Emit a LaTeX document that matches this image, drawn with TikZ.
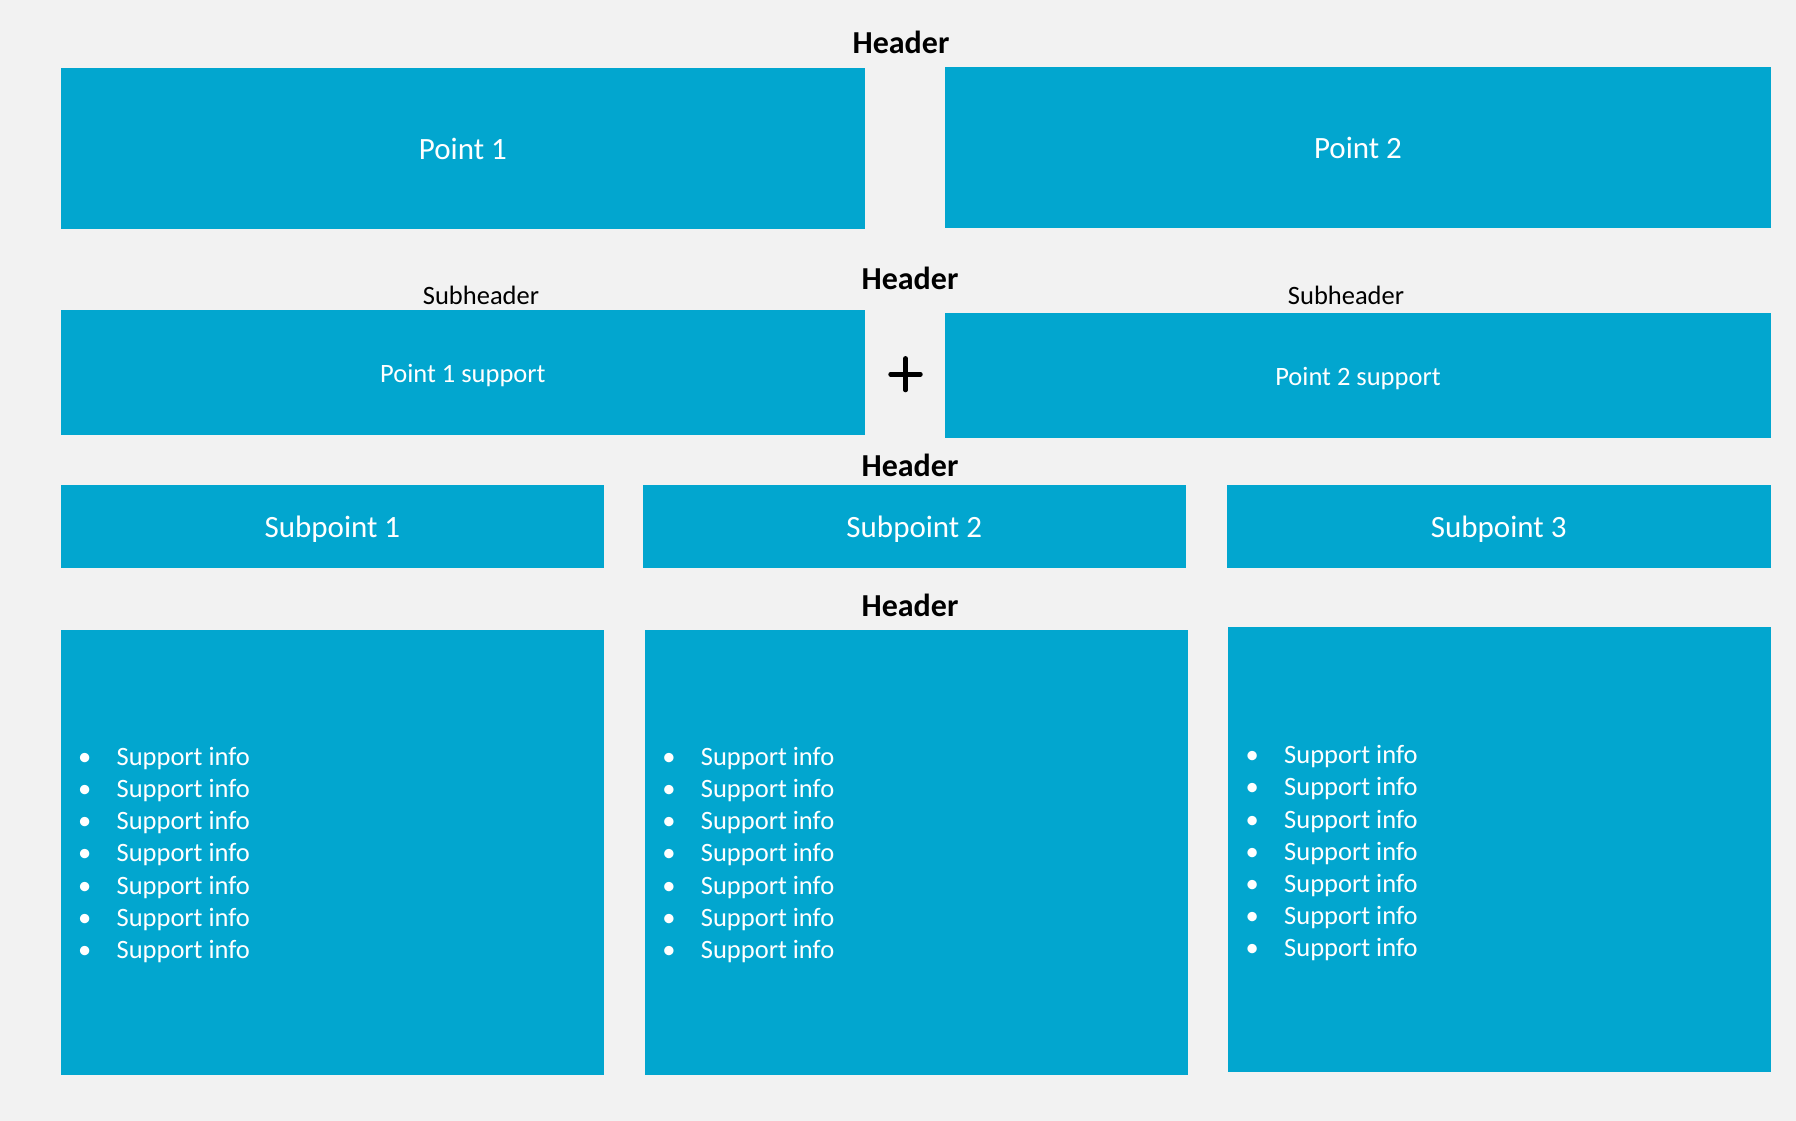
\documentclass[tikz,border=0pt]{standalone}
\usepackage{fontspec}
\setmainfont{Carlito}
\usepackage{tikz}
\usetikzlibrary{calc}
\definecolor{boxblue}{HTML}{02A6CF}
\definecolor{slidebg}{HTML}{F2F2F2}

\begin{document}
\begin{tikzpicture}[x = 1pt, y = -1pt,
box/.style={fill=boxblue, inner sep=0pt, outer sep=0pt, text=white, align=center},
bigtext/.style={font=\fontsize{31}{37}\selectfont, text height=23pt, text depth=0pt},
smalltext/.style={font=\fontsize{26.5}{32}\selectfont, text height=20.4pt, text depth=0pt},
header/.style={anchor=base, inner sep=0pt, font=\bfseries\fontsize{32}{38}\selectfont},
subheader/.style={anchor=base, inner sep=0pt, font=\fontsize{26.5}{32}\selectfont},
infoline/.style={anchor=base west, inner sep=0pt, text=white, font=\fontsize{26.5}{32}\selectfont},
infodot/.style={anchor=base, inner sep=0pt, text=white, font=\fontsize{26.5}{32}\selectfont},
]

	\useasboundingbox (0,0) rectangle (1796,1121);
	\fill[slidebg] (0,0) rectangle (1796,1121); % slide background

	% top row
	\node[header] (h1) at (901,53.3) {Header};
	\node[box, bigtext, minimum width=804.2pt, minimum height=161pt] (p1) at (462.9,148.2) {Point 1};
	\node[box, bigtext, minimum width=826pt, minimum height=160.9pt] (p2) at (1358,147.25) {Point 2};

	% support row
	\node[header] (h2) at (910,289) {Header};
	\node[subheader] (sub1) at (481,304) {Subheader};
	\node[subheader] (sub2) at (1346,304) {Subheader};
	\node[box, smalltext, minimum width=804.2pt, minimum height=124.5pt] (p1-sup) at (462.9,372.25) {Point 1 support};
	\node[box, smalltext, minimum width=826pt, minimum height=124.7pt] (p2-sup) at (1358,375.35) {Point 2 support};

	\coordinate (plus) at (905.5,374.2);
	\draw[line width=4.6pt, line cap=round] ($(plus)+(-14.9,0)$) -- ($(plus)+(14.9,0)$); % plus bar
	\draw[line width=4.6pt, line cap=round] ($(plus)+(0,-15.8)$) -- ($(plus)+(0,15.8)$);

	% subpoints
	\node[header] (h3) at (910,476.5) {Header};
	\node[box, bigtext, minimum width=543.1pt, minimum height=82.7pt] (sp1) at (332.45,526.35) {Subpoint 1};
	\node[box, bigtext, minimum width=543pt, minimum height=82.7pt] (sp2) at (914.3,526.35) {Subpoint 2};
	\node[box, bigtext, minimum width=543.5pt, minimum height=82.7pt] (sp3) at (1498.75,526.35) {Subpoint 3};

	% detail boxes
	\node[header] (h4) at (910,616.7) {Header};
	\node[box, minimum width=543.1pt, minimum height=444.7pt] (info1) at (332.45,852.35) {};
	\node[box, minimum width=543pt, minimum height=444.7pt] (info2) at (916.5,852.35) {};
	\node[box, minimum width=543pt, minimum height=445pt] (info3) at (1499.5,849.5) {};

	\foreach \bx/\by [count=\k] in {84.6/765.3, 668.9/765.3, 1252.2/763.7}
		\foreach \i in {0,...,6} {
			\node[infodot] (dot-\k-\i) at (\bx, \by+32.2*\i) {•};
			\node[infoline] (line-\k-\i) at (\bx+31.8, \by+32.2*\i) {Support info};
		}

\end{tikzpicture}
\end{document}
